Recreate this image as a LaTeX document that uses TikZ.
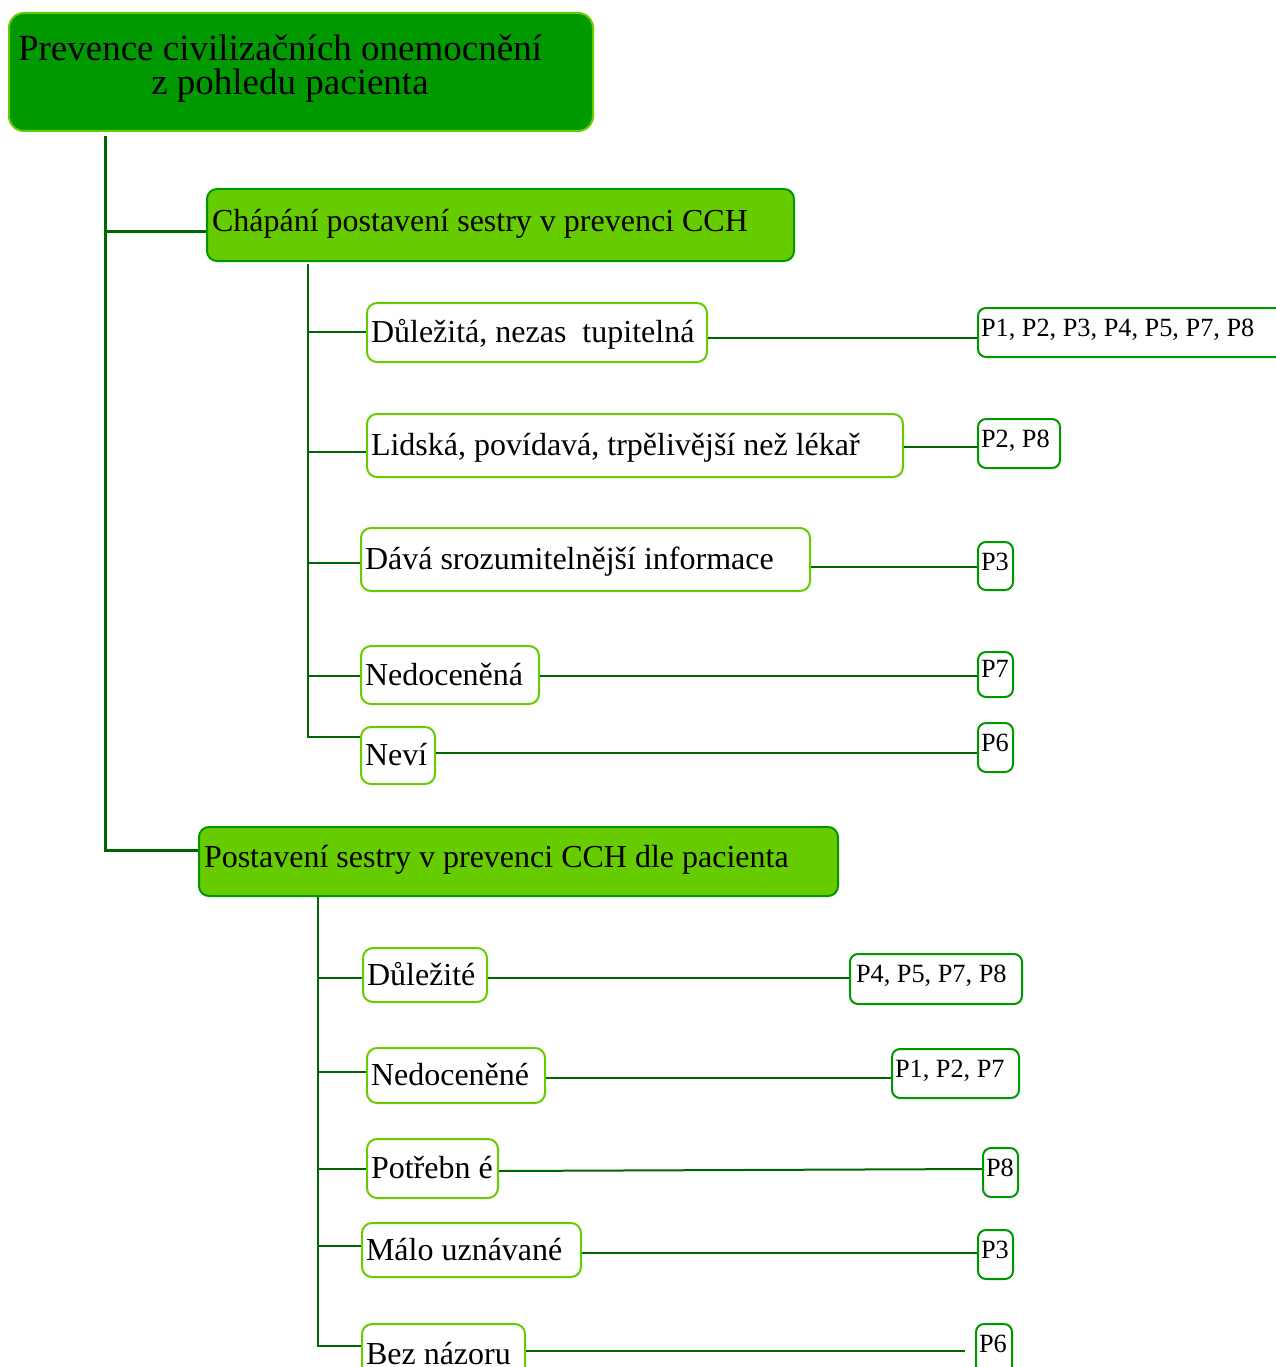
\documentclass[tikz,border=0pt]{standalone}
\usepackage{fontspec}
\setmainfont{Liberation Serif}
\definecolor{rootfill}{RGB}{0,153,0}
\definecolor{lgreen}{RGB}{102,204,0}
\definecolor{mgreen}{RGB}{0,150,0}
\definecolor{dgreen}{RGB}{0,102,0}
\newcommand\fTitle{\fontsize{37}{34}\selectfont}
\newcommand\fMid{\fontsize{32}{36}\selectfont}
\newcommand\fLab{\fontsize{26.3}{30}\selectfont}
\begin{document}
\begin{tikzpicture}[x=1pt,y=-1pt,
  rootbox/.style={draw=lgreen, fill=rootfill, line width=2pt, rounded corners=15pt, anchor=north west, inner xsep=0pt, inner ysep=0pt, font=\fTitle, align=flush center, text width=584pt, minimum height=118pt, text height=28pt, text depth=50pt},
  catbox/.style={draw=mgreen, fill=lgreen, line width=2pt, rounded corners=10pt, anchor=north west, inner xsep=5pt, inner ysep=0pt, font=\fMid, align=flush left, text height=24pt, text depth=12pt},
  itembox/.style={draw=lgreen, fill=white, line width=2pt, rounded corners=10pt, anchor=north west, inner xsep=4pt, inner ysep=0pt, font=\fMid, align=flush left, text height=26pt, text depth=6pt},
  pbox/.style={draw=mgreen, fill=white, line width=2pt, rounded corners=8pt, anchor=north west, inner xsep=3pt, inner ysep=0pt, font=\fLab, align=flush left, text height=28pt},
  trunk/.style={draw=dgreen, line width=3pt},
  twig/.style={draw=dgreen, line width=2pt},
]
\useasboundingbox (0,0) rectangle (1275,1367);

% root
\node[rootbox] (root) at (8,12) {Prevence civilizačních onemocnění\makebox[42pt]{}\\z pohledu pacienta\makebox[22pt]{}};

% categories
\node[catbox, text width=577pt, minimum height=72pt] (L2a) at (206,188) {Chápání postavení sestry v prevenci CCH};
\node[catbox, text width=629pt, minimum height=69pt] (L2b) at (198,826) {Postavení sestry v prevenci CCH dle pacienta};

% items, group 1
\node[itembox, text width=332pt, minimum height=59pt] (a1) at (366,302) {\mbox{Důležitá, nezas\ \ tupitelná}};
\node[itembox, text width=528pt, minimum height=63pt] (a2) at (366,413) {\mbox{Lidská, povídavá, trpělivější než lékař}};
\node[itembox, text width=441pt, minimum height=63pt] (a3) at (360,527) {\mbox{Dává srozumitelnější informace}};
\node[itembox, text width=170pt, minimum height=58pt] (a4) at (360,645) {\mbox{Nedoceněná}};
\node[itembox, text width=66pt, minimum height=57pt] (a5) at (360,726) {\mbox{Neví}};

% items, group 2
\node[itembox, text width=116pt, minimum height=54pt] (b1) at (362,947) {\mbox{Důležité}};
\node[itembox, text width=170pt, minimum height=55pt] (b2) at (366,1047) {\mbox{Nedoceněné}};
\node[itembox, text width=123pt, minimum height=59pt] (b3) at (366,1138) {\mbox{Potřebn é}};
\node[itembox, text width=211pt, minimum height=54pt] (b4) at (361,1222) {\mbox{Málo uznávané}};
\node[itembox, text width=155pt, minimum height=60pt] (b5) at (361,1323) {\mbox{Bez názoru}};

% P labels, group 1
\node[pbox, text width=314pt, text depth=21pt] (p1) at (977,307) {\mbox{P1, P2, P3, P4, P5, P7, P8}};
\node[pbox, text width=76pt, text depth=21pt] (p2) at (977,418) {\mbox{P2, P8}};
\node[pbox, text width=29pt, text depth=20pt] (p3) at (977,541) {\mbox{P3}};
\node[pbox, text width=29pt, text height=25pt, text depth=20pt] (p7) at (977,651) {\mbox{P7}};
\node[pbox, text width=29pt, text depth=21pt] (p6) at (977,722) {\mbox{P6}};

% P labels, group 2
\node[pbox, inner xsep=6pt, text width=160pt, text depth=22pt] (q1) at (849,953) {\mbox{P4, P5, P7, P8}};
\node[pbox, text width=121pt, text depth=21pt] (q2) at (891,1048) {\mbox{P1, P2, P7}};
\node[pbox, text width=29pt, text depth=21pt] (q3) at (982,1147) {\mbox{P8}};
\node[pbox, text width=29pt, text depth=21pt] (q4) at (977,1229) {\mbox{P3}};
\node[pbox, text width=30pt, text depth=32pt] (q5) at (975,1323) {\mbox{P6}};

% main trunk
\coordinate (t0) at (105,136);
\draw[trunk] (t0) |- ([yshift=11.5pt]L2b.west);
\draw[trunk] ([yshift=-6pt]L2a.west) -- ([yshift=-6pt]L2a.west -| t0);

% sub-trunk 1
\coordinate (s1) at (308,264);
\draw[twig] (s1) |- ([yshift=18.5pt]a5.west);
\draw[twig] ([yshift=1pt]a1.west) -- ([yshift=1pt]a1.west -| s1);
\draw[twig] ([yshift=-6pt]a2.west) -- ([yshift=-6pt]a2.west -| s1);
\draw[twig] ([yshift=-3.5pt]a3.west) -- ([yshift=-3.5pt]a3.west -| s1);
\draw[twig] ([yshift=-0.5pt]a4.west) -- ([yshift=-0.5pt]a4.west -| s1);

% sub-trunk 2
\coordinate (s2) at (318,897);
\draw[twig] (s2) |- ([yshift=8pt]b5.west);
\draw[twig] ([yshift=-2.5pt]b1.west) -- ([yshift=-2.5pt]b1.west -| s2);
\draw[twig] ([yshift=3.5pt]b2.west) -- ([yshift=3.5pt]b2.west -| s2);
\draw[twig] ([yshift=-0.5pt]b3.west) -- ([yshift=-0.5pt]b3.west -| s2);
\draw[twig] ([yshift=4pt]b4.west) -- ([yshift=4pt]b4.west -| s2);

% connectors to P labels
\draw[twig] ([yshift=-5.5pt]a1.east) -- ([yshift=-5.5pt]a1.east -| p1.west);
\draw[twig] ([yshift=-1.5pt]a2.east) -- ([yshift=-1.5pt]a2.east -| p2.west);
\draw[twig] ([yshift=-7.5pt]a3.east) -- ([yshift=-7.5pt]a3.east -| p3.west);
\draw[twig] ([yshift=-1pt]a4.east) -- ([yshift=-1pt]a4.east -| p7.west);
\draw[twig] ([yshift=2.5pt]a5.east) -- ([yshift=2.5pt]a5.east -| p6.west);

\draw[twig] ([yshift=-3pt]b1.east) -- ([yshift=-3pt]b1.east -| q1.west);
\draw[twig] ([yshift=-2.5pt]b2.east) -- ([yshift=-2.5pt]b2.east -| q2.west);
\draw[twig] ([yshift=-2.5pt]b3.east) -- ([yshift=3.5pt]q3.west);
\draw[twig] ([yshift=-3pt]b4.east) -- ([yshift=-3pt]b4.east -| q4.west);
\coordinate (b5end) at (965,1351);
\draw[twig] (b5.east |- b5end) -- (b5end);
\end{tikzpicture}
\end{document}
